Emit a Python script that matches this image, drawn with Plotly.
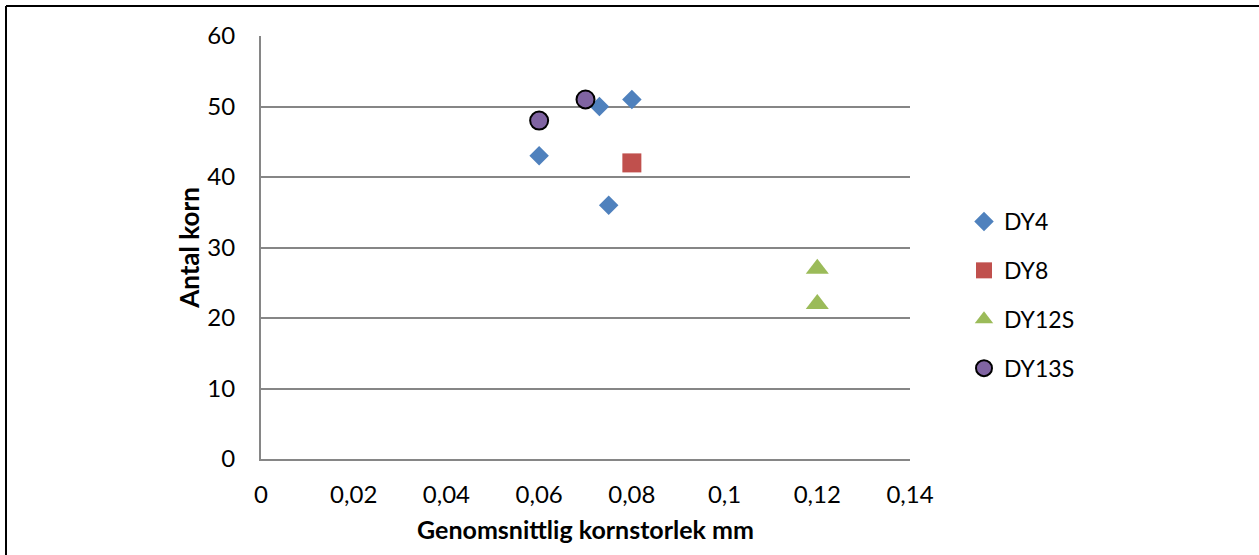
import plotly.graph_objects as go

# Average grain size (mm) and grain count per sample
dy4_x = [0.06, 0.073, 0.08, 0.075]
dy4_y = [43, 50, 51, 36]
dy8_x = [0.08]
dy8_y = [42]
dy12s_x = [0.12, 0.12]
dy12s_y = [27, 22]
dy13s_x = [0.06, 0.07]
dy13s_y = [48, 51]

x_ticks = [0, 0.02, 0.04, 0.06, 0.08, 0.1, 0.12, 0.14]
x_tick_text = ["0", "0,02", "0,04", "0,06", "0,08", "0,1", "0,12", "0,14"]
y_ticks = [0, 10, 20, 30, 40, 50, 60]

FONT = "Lato"
W, H = 1259, 555
L, R, T, B = 261, 349, 36, 96
PW, PH = W - L - R, H - T - B


def px_to_paper_x(px):
    return (px - L) / PW


def px_to_paper_y(py):
    return (H - B - py) / PH


fig = go.Figure()
fig.add_trace(go.Scatter(
    x=dy4_x, y=dy4_y, mode="markers", name="DY4", legendgroup="a",
    marker=dict(symbol="diamond", size=15, color="#4F81BD"),
))
fig.add_trace(go.Scatter(
    x=dy8_x, y=dy8_y, mode="markers", name="DY8", legendgroup="b",
    marker=dict(symbol="square", size=19, color="#C0504D"),
))
fig.add_trace(go.Scatter(
    x=dy12s_x, y=dy12s_y, mode="markers", name="DY12S", legendgroup="c",
    marker=dict(symbol="triangle-up", size=20, color="#9BBB59"),
))
fig.add_trace(go.Scatter(
    x=dy13s_x, y=dy13s_y, mode="markers", name="DY13S", legendgroup="d",
    marker=dict(symbol="circle", size=18, color="#8064A2",
                line=dict(color="black", width=2)),
))

# Outer frame of the chart area (top and left edges)
frame = dict(type="line", xref="paper", yref="paper",
             line=dict(color="black", width=2), layer="above")
fig.add_shape(**frame, x0=px_to_paper_x(6), x1=px_to_paper_x(1270),
              y0=px_to_paper_y(6), y1=px_to_paper_y(6))
fig.add_shape(**frame, x0=px_to_paper_x(6), x1=px_to_paper_x(6),
              y0=px_to_paper_y(6), y1=px_to_paper_y(570))

fig.update_layout(
    width=W, height=H,
    margin=dict(l=L, r=R, t=T, b=B, pad=0, autoexpand=False),
    paper_bgcolor="white", plot_bgcolor="white",
    font=dict(family=FONT, size=24, color="black"),
    showlegend=True,
    legend=dict(
        x=px_to_paper_x(964), y=px_to_paper_y(295),
        xanchor="left", yanchor="middle",
        font=dict(family=FONT, size=23, color="black"),
        tracegroupgap=16, itemwidth=30,
        bgcolor="rgba(0,0,0,0)",
    ),
    xaxis=dict(
        range=[0, 0.14], tickvals=x_ticks, ticktext=x_tick_text,
        showgrid=False, zeroline=False, automargin=False,
        showline=True, linecolor="#868686", linewidth=2,
        ticks="", ticklabelstandoff=13,
        tickfont=dict(family=FONT, size=24),
        title=dict(text="<b>Genomsnittlig kornstorlek mm</b>",
                   font=dict(family=FONT, size=25), standoff=15),
    ),
    yaxis=dict(
        range=[0, 60], tickvals=y_ticks,
        showgrid=True, gridcolor="#868686", gridwidth=2,
        zeroline=False, automargin=False,
        showline=True, linecolor="#868686", linewidth=2,
        ticks="", ticklabelstandoff=19,
        tickfont=dict(family=FONT, size=24),
        title=dict(text="<b>Antal korn</b>",
                   font=dict(family=FONT, size=26), standoff=0),
    ),
)

fig.write_html("out.html")
